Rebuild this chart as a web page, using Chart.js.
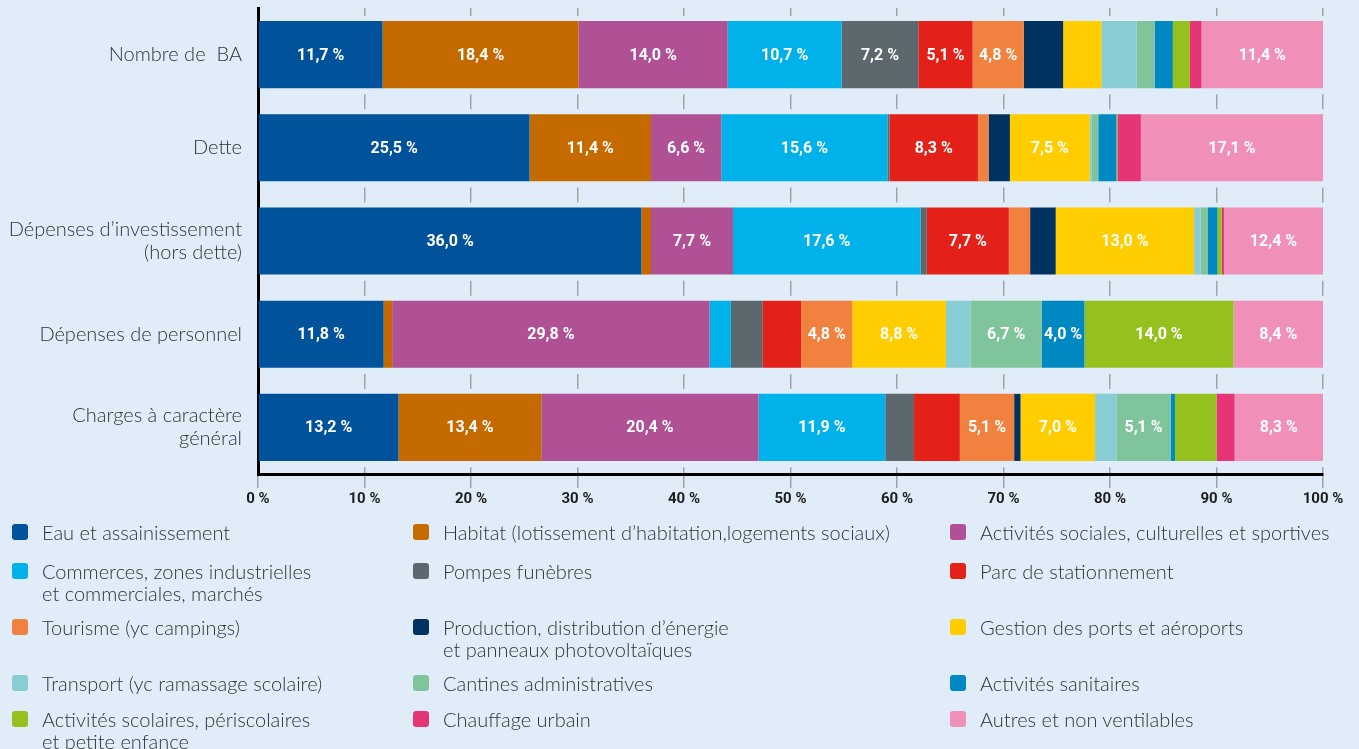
<!DOCTYPE html>
<html lang="fr">
<head>
<meta charset="utf-8">
<title>Budgets annexes par secteur</title>
<script src="https://cdn.jsdelivr.net/npm/chart.js@4.4.1/dist/chart.umd.min.js"></script>
<style>
    html, body {
        margin: 0;
        padding: 0;
        background: #e0edf9;
        width: 1359px;
        height: 749px;
        overflow: hidden;
        font-family: Lato, Roboto, sans-serif;
    }
    #chartBox {
        position: absolute;
        left: 0;
        top: 0;
        width: 1359px;
        height: 510px;
    }
    #legend {
        position: absolute;
        left: 0;
        top: 0;
        width: 1359px;
        height: 749px;
        pointer-events: none;
    }
    .legend-item {
        position: absolute;
        font-size: 20px;
        font-weight: 300;
        line-height: 22px;
        color: #2f3338;
        white-space: pre;
    }
    .legend-item .swatch {
        position: absolute;
        left: -30px;
        top: 3px;
        width: 16px;
        height: 16px;
        border-radius: 3px;
    }
</style>
</head>
<body>
<div id="chartBox"><canvas id="budgetChart" width="1359" height="510"></canvas></div>
<div id="legend"></div>

<script>
// Catégories (une barre par ligne)
const categories = [
    'Nombre de  BA',
    'Dette',
    ['Dépenses d\u2019investissement', '(hors dette)'],
    'Dépenses de personnel',
    ['Charges à caractère', 'général']
];

// Parts en % par secteur, dans l'ordre des catégories
const eau        = [11.7, 25.5, 36.0, 11.8, 13.2];
const habitat    = [18.4, 11.4, 0.9, 0.8, 13.4];
const sociales   = [14.0, 6.6, 7.7, 29.8, 20.4];
const commerces  = [10.7, 15.6, 17.6, 2.0, 11.9];
const pompes     = [7.2, 0.2, 0.6, 3.0, 2.7];
const parc       = [5.1, 8.3, 7.7, 3.6, 4.3];
const tourisme   = [4.8, 1.0, 2.0, 4.8, 5.1];
const production = [3.7, 2.0, 2.4, 0, 0.6];
const ports      = [3.6, 7.5, 13.0, 8.8, 7.0];
const transport  = [3.3, 0.2, 0.6, 2.3, 2.0];
const cantines   = [1.7, 0.6, 0.7, 6.7, 5.1];
const sanitaires = [1.7, 1.7, 0.9, 4.0, 0.4];
const scolaires  = [1.6, 0.1, 0.4, 14.0, 3.9];
const chauffage  = [1.1, 2.2, 0.2, 0, 1.7];
const autres     = [11.4, 17.1, 12.4, 8.4, 8.3];

const seriesLabels = [
    'Eau et assainissement',
    'Habitat (lotissement d\u2019habitation,logements sociaux)',
    'Activités sociales, culturelles et sportives',
    'Commerces, zones industrielles\net commerciales, marchés',
    'Pompes funèbres',
    'Parc de stationnement',
    'Tourisme (yc campings)',
    'Production, distribution d\u2019énergie\net panneaux photovoltaïques',
    'Gestion des ports et aéroports',
    'Transport (yc ramassage scolaire)',
    'Cantines administratives',
    'Activités sanitaires',
    'Activités scolaires, périscolaires\net petite enfance',
    'Chauffage urbain',
    'Autres et non ventilables'
];

const seriesValues = [
    eau, habitat, sociales, commerces, pompes, parc, tourisme, production,
    ports, transport, cantines, sanitaires, scolaires, chauffage, autres
];

const seriesColors = [
    '#00529b', '#c46a00', '#b05095', '#00b2e9', '#5d686e',
    '#e32119', '#f0813e', '#00335f', '#ffcd00', '#88cdd4',
    '#80c49c', '#0088c3', '#95c11f', '#e63577', '#f08fb8'
];

// Segments qui portent une étiquette, par catégorie (indices de secteur)
const labelled = [
    [0, 1, 2, 3, 4, 5, 6, 14],
    [0, 1, 2, 3, 5, 8, 14],
    [0, 2, 3, 5, 8, 14],
    [0, 2, 6, 8, 10, 11, 12, 14],
    [0, 1, 2, 3, 6, 8, 10, 14]
];

const xTicks = [0, 10, 20, 30, 40, 50, 60, 70, 80, 90, 100];

function formatPct(v) {
    return v.toFixed(1).replace('.', ',') + ' %';
}

// Étiquettes blanches au centre des segments
const segmentLabels = {
    id: 'segmentLabels',
    afterDatasetsDraw: function(chart) {
        const ctx = chart.ctx;
        const area = chart.chartArea;
        ctx.save();
        ctx.font = 'bold 16px Roboto, sans-serif';
        ctx.fillStyle = '#ffffff';
        ctx.textAlign = 'center';
        ctx.textBaseline = 'middle';
        chart.data.datasets.forEach(function(ds, si) {
            const meta = chart.getDatasetMeta(si);
            meta.data.forEach(function(bar, ci) {
                if (labelled[ci].indexOf(si) === -1) return;
                const left = Math.max(Math.min(bar.base, bar.x), area.left);
                const right = Math.min(Math.max(bar.base, bar.x), area.right);
                ctx.fillText(formatPct(ds.data[ci]), (left + right) / 2, bar.y + 1);
            });
        });
        ctx.restore();
    }
};

const datasets = seriesValues.map(function(values, i) {
    return {
        label: seriesLabels[i],
        data: values,
        backgroundColor: seriesColors[i],
        borderWidth: 0,
        categoryPercentage: 1,
        barPercentage: 0.72,
        clip: 0
    };
});

new Chart(document.getElementById('budgetChart'), {
    type: 'bar',
    data: {
        labels: categories,
        datasets: datasets
    },
    options: {
        indexAxis: 'y',
        responsive: false,
        animation: false,
        layout: {
            padding: { left: 0, right: 36, top: 8, bottom: 0 }
        },
        scales: {
            x: {
                stacked: true,
                min: 0,
                max: 100,
                afterBuildTicks: function(scale) {
                    scale.ticks = xTicks.map(function(v) { return { value: v }; });
                },
                afterFit: function(scale) {
                    scale.height = 36;
                    scale.paddingLeft = 0;
                    scale.paddingRight = 0;
                },
                // in v4 the dash settings here apply to the grid lines
                border: { color: '#000000', width: 3, dash: [15, 78.25], dashOffset: 7 },
                grid: {
                    color: '#a3a3a3',
                    lineWidth: 1.5,
                    tickLength: 14,
                    tickColor: '#a3a3a3',
                    tickWidth: 1.5
                },
                ticks: {
                    padding: 2,
                    color: '#1e1e1e',
                    font: { family: 'Roboto', size: 15, weight: 'bold' },
                    callback: function(v) { return v + ' %'; }
                }
            },
            y: {
                stacked: true,
                afterFit: function(scale) {
                    scale.width = 258;
                    scale.paddingTop = 0;
                    scale.paddingBottom = 0;
                },
                border: { color: '#000000', width: 3 },
                grid: { display: false, drawTicks: false },
                ticks: {
                    padding: 16,
                    color: '#2f3338',
                    font: { family: 'Lato', size: 20, weight: '300', lineHeight: 1.15 }
                }
            }
        },
        plugins: {
            legend: { display: false },
            tooltip: { enabled: false }
        }
    },
    plugins: [segmentLabels]
});

// Légende sur trois colonnes
const legendCols = [42, 443, 980];
const legendRows = [521, 560, 616, 672, 708];
const legendBox = document.getElementById('legend');
seriesLabels.forEach(function(label, i) {
    const item = document.createElement('div');
    item.className = 'legend-item';
    item.style.left = legendCols[i % 3] + 'px';
    item.style.top = legendRows[Math.floor(i / 3)] + 'px';
    const swatch = document.createElement('span');
    swatch.className = 'swatch';
    swatch.style.background = seriesColors[i];
    item.appendChild(swatch);
    item.appendChild(document.createTextNode(label));
    legendBox.appendChild(item);
});
</script>
</body>
</html>
